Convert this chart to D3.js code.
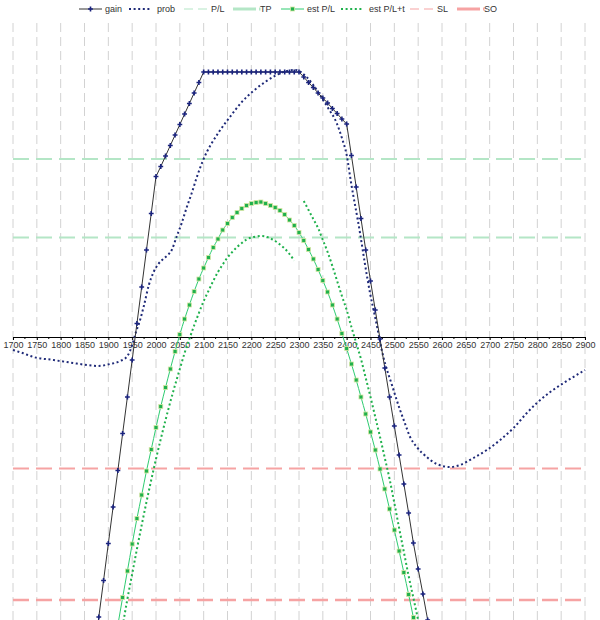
<!DOCTYPE html>
<html>
<head>
<meta charset="utf-8">
<script src="https://cdn.jsdelivr.net/npm/d3@7"></script>
<style>
  html, body { margin: 0; padding: 0; background: #fff; }
  svg { display: block; font-family: "Liberation Sans", Arial, sans-serif; }
</style>
</head>
<body>
<svg id="chart" width="600" height="620"></svg>
<script>
// ---------------- data ----------------
const xTicks = [1700,1750,1800,1850,1900,1950,2000,2050,2100,2150,2200,2250,2300,2350,2400,2450,2500,2550,2600,2650,2700,2750,2800,2850,2900];

const gain = [
  [1870,-634],[1880,-560],[1890,-487],[1900,-413],[1910,-340],[1920,-267],[1930,-193],[1940,-120],
  [1950,-46],[1960,27],[1970,100],[1980,174],[1990,247],[2000,321],[2010,341],[2020,362],[2030,383],
  [2040,404],[2050,425],[2060,446],[2070,467],[2080,488],[2090,509],[2100,530],[2110,530],[2120,530],
  [2130,530],[2140,530],[2150,530],[2160,530],[2170,530],[2180,530],[2190,530],[2200,530],[2210,530],
  [2220,530],[2230,530],[2240,530],[2250,530],[2260,530],[2270,530],[2280,530],[2290,530],[2300,530],
  [2310,520],[2320,509],[2330,499],[2340,488],[2350,478],[2360,468],[2370,457],[2380,447],[2390,436],
  [2400,426],[2410,363],[2420,300],[2430,237],[2440,174],[2450,112],[2460,54],[2470,-4],[2480,-62],
  [2490,-120],[2500,-178],[2510,-236],[2520,-294],[2530,-352],[2540,-412],[2550,-464],[2560,-514],
  [2570,-566],[2580,-618]
];

const prob = [
  [1700,-26],[1720,-32],[1743,-40],[1785,-46],[1826,-52],[1855,-56],[1876,-58],[1904,-54],[1925,-48],
  [1940,-38],[1950,-16],[1958,10],[1966,32],[1975,64],[1985,104],[1995,130],[2005,146],[2015,156],
  [2025,164],[2033,174],[2043,200],[2054,228],[2064,258],[2075,288],[2085,318],[2099,354],[2132,410],
  [2155,440],[2180,470],[2204,492],[2229,510],[2253,524],[2274,532],[2292,534],[2316,520],[2330,504],
  [2344,484],[2361,458],[2379,428],[2390,398],[2400,364],[2409,310],[2428,208],[2438,148],[2449,88],
  [2461,34],[2477,-40],[2495,-96],[2512,-146],[2522,-172],[2533,-200],[2547,-220],[2568,-240],
  [2589,-254],[2617,-260],[2638,-256],[2666,-242],[2694,-226],[2722,-206],[2750,-182],[2778,-152],
  [2799,-132],[2827,-110],[2855,-92],[2893,-70],[2900,-66]
];

const estPL = [
  [1920,-576],[1930,-521],[1940,-468],[1950,-414],[1960,-363],[1970,-316],[1980,-268],[1990,-225],
  [2000,-181],[2010,-139],[2020,-101],[2030,-64],[2040,-29],[2050,5],[2060,36],[2070,64],[2080,91],
  [2090,116],[2100,138],[2110,159],[2120,179],[2130,196],[2140,214],[2150,227],[2160,239],[2170,249],
  [2180,257],[2190,263],[2200,267],[2210,269],[2220,270],[2230,267],[2240,263],[2250,259],[2260,253],
  [2270,245],[2280,234],[2290,223],[2300,209],[2310,193],[2320,175],[2330,156],[2340,135],[2350,113],
  [2360,90],[2370,64],[2380,36],[2390,7],[2400,-23],[2410,-54],[2420,-86],[2430,-120],[2440,-154],
  [2450,-190],[2460,-226],[2470,-264],[2480,-304],[2490,-344],[2500,-386],[2510,-428],[2520,-471],
  [2530,-515],[2540,-561],[2550,-606]
];

const estPLtNear = [
  [1930,-578],[1940,-524],[1950,-474],[1960,-424],[1970,-376],[1980,-330],[1990,-286],[2000,-244],
  [2010,-204],[2020,-166],[2030,-130],[2040,-96],[2050,-64],[2060,-32],[2070,-4],[2080,23],[2090,48],
  [2100,72],[2110,92],[2120,112],[2130,130],[2140,145],[2150,159],[2160,170],[2170,180],[2180,188],
  [2190,195],[2200,199],[2210,201],[2220,202],[2230,201],[2240,197],[2250,192],[2260,185],[2270,177],
  [2280,166],[2290,153]
];

const estPLtFar = [
  [2310,272],[2320,254],[2330,236],[2340,218],[2350,194],[2360,170],[2370,142],[2380,112],[2390,82],
  [2400,54],[2410,20],[2420,-12],[2430,-44],[2440,-82],[2450,-120],[2460,-160],[2470,-200],[2480,-242],
  [2490,-284],[2500,-332],[2510,-382],[2520,-430],[2530,-478],[2540,-522],[2550,-566],[2560,-610]
];

const levelPL = 356;
const levelTP = 199;
const levelSL = -263;
const levelSO = -526;

const legendItems = ["gain","prob","P/L","TP","est P/L","est P/L+t","SL","SO"];

// ---------------- drawing ----------------
(function draw() {
const svg = d3.select("#chart");
const pLeft = 13, pRight = 585, pTop = 23, pBottom = 620;

const x = d3.scaleLinear().domain([1700, 2900]).range([pLeft, pRight]);
const y = d3.scaleLinear().domain([-566, 626]).range([pBottom, 24]);

const C = {
  gainLine: "#333333",
  gainMark: "#1a237e",
  prob: "#1f2a78",
  greenLight: "#b4e6c6",
  green: "#2ecc71",
  greenDark: "#1fb14c",
  red: "#f6a3a3"
};

svg.append("defs").append("clipPath").attr("id", "plot")
  .append("rect").attr("x", pLeft - 2).attr("y", pTop).attr("width", pRight - pLeft + 4).attr("height", pBottom - pTop);

// vertical grid
svg.append("g").selectAll("line").data(xTicks).join("line")
  .attr("x1", d => x(d)).attr("x2", d => x(d))
  .attr("y1", pTop).attr("y2", pBottom)
  .attr("stroke", "#d2d2d2").attr("stroke-width", 1).attr("stroke-dasharray", "9,5");

// horizontal levels
const levels = [
  {v: levelPL, c: C.greenLight, w: 2},
  {v: levelTP, c: C.greenLight, w: 2},
  {v: levelSL, c: C.red, w: 2},
  {v: levelSO, c: C.red, w: 2.5}
];
svg.append("g").selectAll("line").data(levels).join("line")
  .attr("x1", pLeft).attr("x2", pRight)
  .attr("y1", d => y(d.v)).attr("y2", d => y(d.v))
  .attr("stroke", d => d.c).attr("stroke-width", d => d.w)
  .attr("stroke-dasharray", "16,7");

// x axis
const axisG = svg.append("g").attr("transform", `translate(0,${y(0)})`);
const axis = d3.axisBottom(x).tickValues(xTicks).tickSize(3).tickPadding(2).tickFormat(d3.format("d"));
axisG.call(axis);
axisG.select(".domain").attr("stroke", "#000");
axisG.selectAll(".tick line").attr("stroke", "#000");
axisG.selectAll(".tick text").attr("fill", "#333").attr("font-size", 9)
  .attr("font-family", "Liberation Sans, Arial, sans-serif");
// minor ticks
axisG.append("g").selectAll("line").data(xTicks.slice(0, -1)).join("line")
  .attr("x1", d => (x(d) + x(d + 50)) / 2).attr("x2", d => (x(d) + x(d + 50)) / 2)
  .attr("y1", 0).attr("y2", 2).attr("stroke", "#000");

const plot = svg.append("g").attr("clip-path", "url(#plot)");
const line = d3.line().x(d => x(d[0])).y(d => y(d[1]));
const smooth = d3.line().x(d => x(d[0])).y(d => y(d[1])).curve(d3.curveMonotoneX);

// prob
plot.append("path").datum(prob).attr("d", smooth)
  .attr("fill", "none").attr("stroke", C.prob).attr("stroke-width", 2)
  .attr("stroke-dasharray", "2,2.6");

// est P/L+t
[estPLtNear, estPLtFar].forEach(seg => {
  plot.append("path").datum(seg).attr("d", smooth)
    .attr("fill", "none").attr("stroke", C.greenDark).attr("stroke-width", 2)
    .attr("stroke-dasharray", "2,2.6");
});

// est P/L
plot.append("path").datum(estPL).attr("d", smooth)
  .attr("fill", "none").attr("stroke", C.green).attr("stroke-width", 1);
plot.append("g").selectAll("rect").data(estPL).join("rect")
  .attr("x", d => x(d[0]) - 2).attr("y", d => y(d[1]) - 2)
  .attr("width", 4).attr("height", 4)
  .attr("fill", C.greenDark).attr("stroke", "#d6e6a6").attr("stroke-width", 0.8);

// gain
plot.append("path").datum(gain).attr("d", line)
  .attr("fill", "none").attr("stroke", C.gainLine).attr("stroke-width", 1);
const cross = d3.symbol().type(d3.symbolCross).size(13);
plot.append("g").selectAll("path").data(gain).join("path")
  .attr("transform", d => `translate(${x(d[0])},${y(d[1])})`)
  .attr("d", cross).attr("fill", C.gainMark);

// legend
const lg = svg.append("g").attr("font-size", 9).attr("fill", "#333");
const ly = 9;
const lx = [79, 129, 184, 233, 281, 341, 410, 457];
const lt = [105, 157, 211, 260, 307, 369, 437, 484];
legendItems.forEach((name, i) => {
  const g = lg.append("g");
  const x0 = lx[i], x1 = lx[i] + 23;
  if (name === "gain") {
    g.append("line").attr("x1", x0).attr("x2", x1).attr("y1", ly).attr("y2", ly).attr("stroke", C.gainLine);
    g.append("path").attr("transform", `translate(${(x0 + x1) / 2},${ly})`).attr("d", cross).attr("fill", C.gainMark);
  } else if (name === "prob") {
    g.append("line").attr("x1", x0).attr("x2", x1).attr("y1", ly).attr("y2", ly)
      .attr("stroke", C.prob).attr("stroke-width", 2).attr("stroke-dasharray", "2,2.6");
  } else if (name === "P/L") {
    g.append("line").attr("x1", x0).attr("x2", x1).attr("y1", ly).attr("y2", ly)
      .attr("stroke", C.greenLight).attr("stroke-width", 1.2).attr("stroke-dasharray", "9,5");
  } else if (name === "TP") {
    g.append("line").attr("x1", x0).attr("x2", x1).attr("y1", ly).attr("y2", ly)
      .attr("stroke", C.greenLight).attr("stroke-width", 3);
    g.append("line").attr("x1", x1 + 3).attr("x2", x1 + 4.5).attr("y1", ly).attr("y2", ly)
      .attr("stroke", C.greenLight).attr("stroke-width", 3);
  } else if (name === "est P/L") {
    g.append("line").attr("x1", x0).attr("x2", x1).attr("y1", ly).attr("y2", ly).attr("stroke", C.green);
    g.append("rect").attr("x", (x0 + x1) / 2 - 2).attr("y", ly - 2).attr("width", 4).attr("height", 4)
      .attr("fill", C.greenDark).attr("stroke", "#d6e6a6").attr("stroke-width", 0.8);
  } else if (name === "est P/L+t") {
    g.append("line").attr("x1", x0).attr("x2", x1).attr("y1", ly).attr("y2", ly)
      .attr("stroke", C.greenDark).attr("stroke-width", 2).attr("stroke-dasharray", "2,2.6");
  } else if (name === "SL") {
    g.append("line").attr("x1", x0).attr("x2", x1).attr("y1", ly).attr("y2", ly)
      .attr("stroke", C.red).attr("stroke-width", 1.2).attr("stroke-dasharray", "9,5");
  } else if (name === "SO") {
    g.append("line").attr("x1", x0).attr("x2", x1).attr("y1", ly).attr("y2", ly)
      .attr("stroke", C.red).attr("stroke-width", 3);
    g.append("line").attr("x1", x1 + 3).attr("x2", x1 + 4.5).attr("y1", ly).attr("y2", ly)
      .attr("stroke", C.red).attr("stroke-width", 3);
  }
  g.append("text").attr("x", lt[i]).attr("y", ly + 3).text(name);
});
})();
</script>
</body>
</html>
